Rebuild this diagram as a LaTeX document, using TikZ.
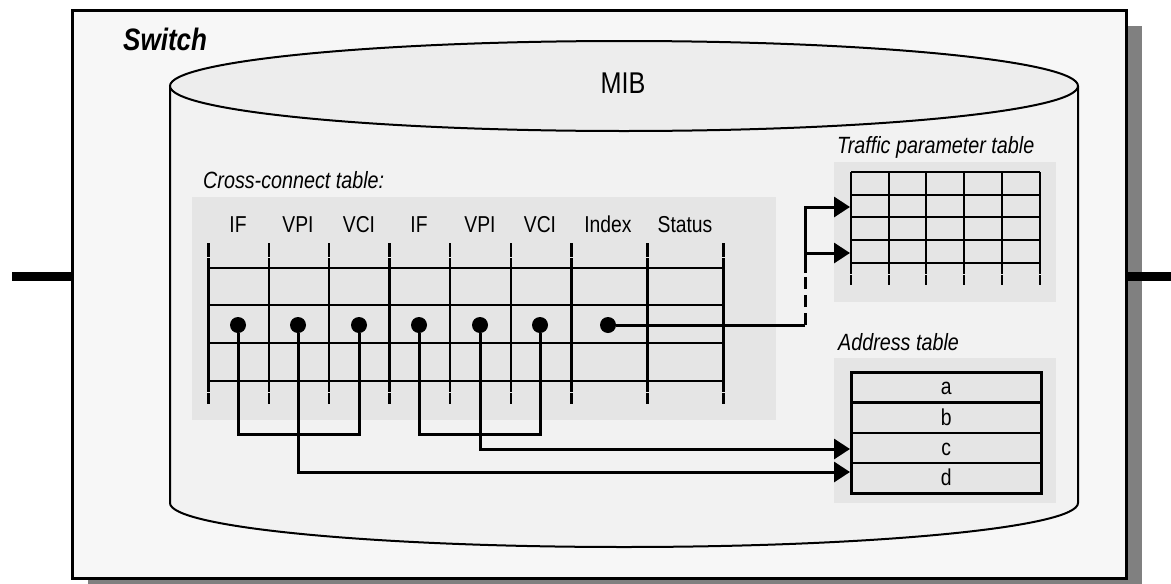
\documentclass[tikz,border=0pt]{standalone}
\usepackage{fontspec}
\setmainfont{Liberation Sans}[FakeStretch=0.84]
\usetikzlibrary{positioning, arrows.meta, calc}

\definecolor{switchfill}{HTML}{F7F7F7}
\definecolor{cylfill}{HTML}{F2F2F2}
\definecolor{lidfill}{HTML}{EDEDED}
\definecolor{panelfill}{HTML}{E5E5E5}
\definecolor{shadowgray}{HTML}{808080}

\begin{document}
\begin{tikzpicture}[
    x=1pt, y=1pt,
    >={Triangle[length=16pt, width=20pt]},
    txt/.style={
        font=\fontsize{23}{27}\selectfont,
        inner sep=0pt,
        anchor=base
    },
    caption/.style={
        txt,
        font=\itshape\fontsize{23.5}{27}\selectfont,
        anchor=base west
    },
    panel/.style={
        fill=panelfill
    },
    dot/.style={
        circle,
        fill=black,
        inner sep=0pt,
        minimum size=16pt
    },
    wire/.style={
        line width=3pt
    },
    arrow/.style={
        wire,
        ->
    },
    rule/.style={
        line width=2.5pt
    },
    hrule/.style={
        line width=2pt
    },
    addrrow/.style={
        rectangle,
        draw,
        line width=2.5pt,
        fill=panelfill,
        minimum width=190pt,
        minimum height=30.25pt,
        text height=15pt,
        text depth=0pt,
        inner sep=0pt,
        font=\fontsize{23}{27}\selectfont
    }
]

    \useasboundingbox (0,0) rectangle (1171,-584);

    % Switch box with shadow
    \fill[shadowgray] (88,-26) rectangle (1142,-600);
    \node[draw, line width=3pt, fill=switchfill, minimum width=1054pt,
          minimum height=568pt, inner sep=0pt] (switch) at (599,-294) {};
    \node[font=\bfseries\itshape\fontsize{31}{35}\selectfont, inner sep=0pt,
          anchor=base west] (switchlbl) at (123,-50) {Switch};

    % Links
    \coordinate (linkl) at (12,-276);
    \coordinate (linkr) at (1171,-276);
    \draw[line width=9pt] (linkl) -- (linkl -| switch.west);
    \draw[line width=9pt] (switch.east |- linkr) -- (linkr);

    % MIB cylinder
    \fill[cylfill] (170,-86) -- (170,-503)
        arc[start angle=180, end angle=360, x radius=454, y radius=44]
        -- (1078,-86) -- cycle;
    \draw[line width=2pt] (170,-86) -- (170,-503)
        arc[start angle=180, end angle=360, x radius=454, y radius=44]
        -- (1078,-86);
    \draw[line width=2pt, fill=lidfill] (624,-86) ellipse[x radius=454, y radius=45];
    \node[txt, font=\fontsize{30}{34}\selectfont] (mib) at (623,-93) {MIB};

    % Cross-connect table
    \node[caption] (cclbl) at (203,-188) {Cross-connect table:};
    \fill[panel] (192,-197) rectangle (776,-420);
    \foreach \x/\t [count=\i] in {238/IF, 298/VPI, 359/VCI, 419/IF, 480/VPI, 540/VCI, 608/Index, 685/Status}
        \node[txt] (head\i) at (\x,-232) {\t};
    \foreach \y in {268,305,343,381}
        \draw[hrule] (208,-\y) -- (723,-\y);
    \foreach \x/\w in {208/3, 269/2, 329/2, 389/3, 450/2, 511/2, 571/3, 647/3, 723/3}
        \draw[line width=\w pt] (\x,-243) -- (\x,-256.5) (\x,-258) -- (\x,-391.5) (\x,-393) -- (\x,-404);
    \foreach \x [count=\i] in {238,298,359,419,480,540,608}
        \node[dot] (d\i) at (\x,-325) {};

    % Traffic parameter table
    \node[caption] (tplbl) at (837,-153) {Traffic parameter table};
    \fill[panel] (834,-162) rectangle (1056,-302);
    \foreach \y in {172,195,217,240,263}
        \draw[rule] (851,-\y) -- (1040,-\y);
    \foreach \x in {851,889,926,964,1002,1040}
        \draw[rule] (\x,-172) -- (\x,-273.5) (\x,-275) -- (\x,-285);
    \coordinate (tpa) at (850,-207);
    \coordinate (tpb) at (850,-253);

    % Address table
    \node[caption] (adlbl) at (838,-350) {Address table};
    \fill[panel] (834,-358) rectangle (1056,-503);
    \foreach \t [count=\i] in {a,b,c,d}
        \node[addrrow, anchor=north west] (addr\t) at (850,{-371-(\i-1)*30.25}) {\t};

    % Connectors
    \coordinate (loop) at (0,-434);
    \coordinate (toc) at (0,-449);
    \coordinate (tod) at (0,-472);
    \coordinate (riser) at (805,-273);
    \draw[wire] (d1) -- (d1 |- loop) -| (d3);
    \draw[wire] (d4) -- (d4 |- loop) -| (d6);
    \draw[arrow] (d5) |- (addrc.west |- toc);
    \draw[arrow] (d2) |- (addrd.west |- tod);
    \draw[wire] (d7) -- (d7 -| riser);
    \draw[wire, dash pattern=on 12pt off 6pt] (d7 -| riser) -- (riser);
    \draw[arrow] (riser) |- (tpa);
    \draw[arrow] (riser |- tpb) -- (tpb);

\end{tikzpicture}
\end{document}
